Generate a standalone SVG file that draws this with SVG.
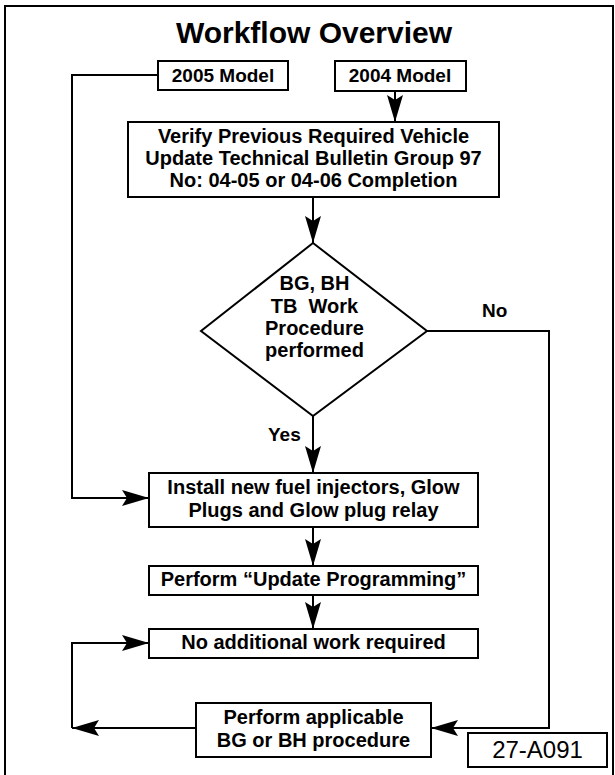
<svg xmlns="http://www.w3.org/2000/svg" width="615" height="775" viewBox="0 0 615 775">
<style>
.box{fill:#fff;stroke:#000;stroke-width:2}
.ln{fill:none;stroke:#000;stroke-width:2}
.t{font-family:"Liberation Sans",Arial,Helvetica,sans-serif;font-weight:bold;font-size:20px;fill:#000;text-anchor:middle}
.lbl{font-family:"Liberation Sans",Arial,Helvetica,sans-serif;font-weight:bold;font-size:19px;fill:#000}
.pre{white-space:pre}
</style>
<defs>
<marker id="ah" markerUnits="userSpaceOnUse" markerWidth="28" markerHeight="16" refX="27" refY="8" orient="auto">
<path d="M0,0 L27,8 L0,16 L5,8 Z" fill="#000"/>
</marker>
</defs>
<rect width="615" height="775" fill="#fff"/>
<path d="M5,775 L5,6 L613,6 L613,775" fill="none" stroke="#000" stroke-width="2"/>
<text x="314" y="43" class="t" style="font-size:30px">Workflow Overview</text>

<g id="connectors">
<path class="ln" d="M158,75 L72,75 L72,498 L149,498" marker-end="url(#ah)"/>
<path class="ln" d="M395,91 L395,122" marker-end="url(#ah)"/>
<path class="ln" d="M313,197 L313,243" marker-end="url(#ah)"/>
<path class="ln" d="M313,416 L313,473" marker-end="url(#ah)"/>
<path class="ln" d="M427,331 L549,331 L549,728 L431,728" marker-end="url(#ah)"/>
<path class="ln" d="M313,527 L313,566" marker-end="url(#ah)"/>
<path class="ln" d="M313,595 L313,629" marker-end="url(#ah)"/>
<path class="ln" d="M196,728 L72,728" marker-end="url(#ah)"/>
<path class="ln" d="M72,728 L72,643 L149,643" marker-end="url(#ah)"/>
<text x="482" y="317" class="lbl">No</text>
<text x="268" y="441" class="lbl">Yes</text>
</g>

<g id="model2005">
<rect class="box" x="158" y="61" width="130" height="29"/>
<text x="223" y="82" class="t" style="font-size:19px">2005 Model</text>
</g>
<g id="model2004">
<rect class="box" x="335" y="61" width="131" height="30"/>
<text x="400" y="82" class="t" style="font-size:19px">2004 Model</text>
</g>
<g id="verify">
<rect class="box" x="128" y="122" width="371" height="75"/>
<text x="313.5" y="143" class="t">Verify Previous Required Vehicle</text>
<text x="313.5" y="165" class="t">Update Technical Bulletin Group 97</text>
<text x="313.5" y="187" class="t">No: 04-05 or 04-06 Completion</text>
</g>
<g id="decision">
<polygon class="box" points="313,243 427,331 313,416 201,331"/>
<text x="314.5" y="290" class="t">BG, BH</text>
<text x="314.5" y="313" class="t pre">TB  Work</text>
<text x="314.5" y="335" class="t">Procedure</text>
<text x="314.5" y="357" class="t">performed</text>
</g>
<g id="install">
<rect class="box" x="149" y="473" width="329" height="54"/>
<text x="313.5" y="494" class="t">Install new fuel injectors, Glow</text>
<text x="313.5" y="517" class="t">Plugs and Glow plug relay</text>
</g>
<g id="update">
<rect class="box" x="149" y="566" width="329" height="29"/>
<text x="313.5" y="586" class="t">Perform “Update Programming”</text>
</g>
<g id="noadditional">
<rect class="box" x="149" y="629" width="329" height="29"/>
<text x="313.5" y="649" class="t">No additional work required</text>
</g>
<g id="applicable">
<rect class="box" x="196" y="703" width="235" height="54"/>
<text x="313.5" y="724" class="t">Perform applicable</text>
<text x="313.5" y="747" class="t">BG or BH procedure</text>
</g>
<g id="figid">
<rect class="box" x="468" y="733" width="139" height="34"/>
<text x="537.5" y="758" class="t" style="font-weight:normal;font-size:24px">27-A091</text>
</g>
</svg>
